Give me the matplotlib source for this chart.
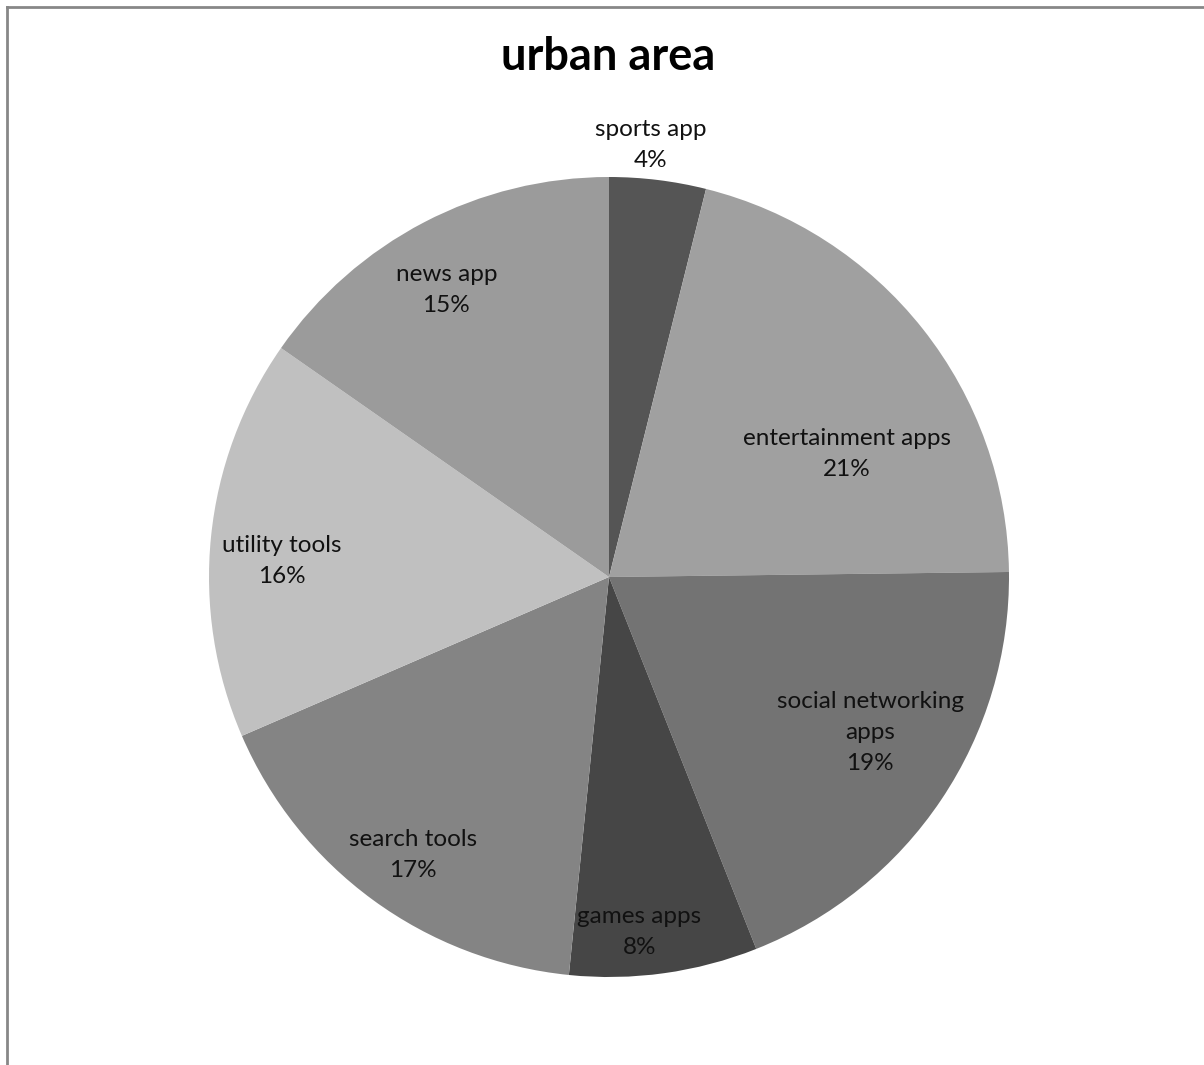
import numpy as np
import matplotlib.pyplot as plt

labels = ["sports app", "entertainment apps", "social networking\napps", "games apps",
          "search tools", "utility tools", "news app"]
shares = [3.9, 20.9, 19.2, 7.6, 16.9, 16.2, 15.3]
colors = ["#555555", "#a0a0a0", "#737373", "#464646", "#848484", "#c0c0c0", "#9b9b9b"]
# radial position of each label (fraction of radius) and angular nudge in degrees
label_dist = [1.085, 0.67, 0.76, 0.89, 0.85, 0.82, 0.825]
label_turn = [1.5, -11, 3, -3, 1, 3, 2]

W, H = 1204, 1065
fig = plt.figure(figsize=(W / 100, H / 100), dpi=100)
ax = fig.add_axes([0, 0, 1, 1])

cx, cy, r = 609, H - 577, 400
wedges, _ = ax.pie(shares, colors=colors, startangle=90, counterclock=False,
                   center=(cx, cy), radius=r, frame=True,
                   wedgeprops=dict(linewidth=0))
ax.set_xlim(0, W)
ax.set_ylim(0, H)
ax.set_aspect("equal")
ax.axis("off")

total = sum(shares)
for w, lab, v, d, t in zip(wedges, labels, shares, label_dist, label_turn):
    ang = np.deg2rad((w.theta1 + w.theta2) / 2 + t)
    x = cx + d * r * np.cos(ang)
    y = cy + d * r * np.sin(ang)
    ax.text(x, y, f"{lab}\n{v / total * 100:.0f}%", ha="center", va="center",
            fontsize=17.5, family="Lato", color="#111111", linespacing=1.58)

fig.text(608 / W, 1 - 57 / H, "urban area", ha="center", va="center",
         fontsize=32.5, fontweight="bold", family="Lato")

# outer frame (only top and left edges fall inside the image)
ax.plot([7, W], [H - 7, H - 7], color="#878787", lw=2, clip_on=False)
ax.plot([7, 7], [H - 7, 0], color="#878787", lw=2, clip_on=False)

fig.savefig("out.png", dpi=100, facecolor="white")
